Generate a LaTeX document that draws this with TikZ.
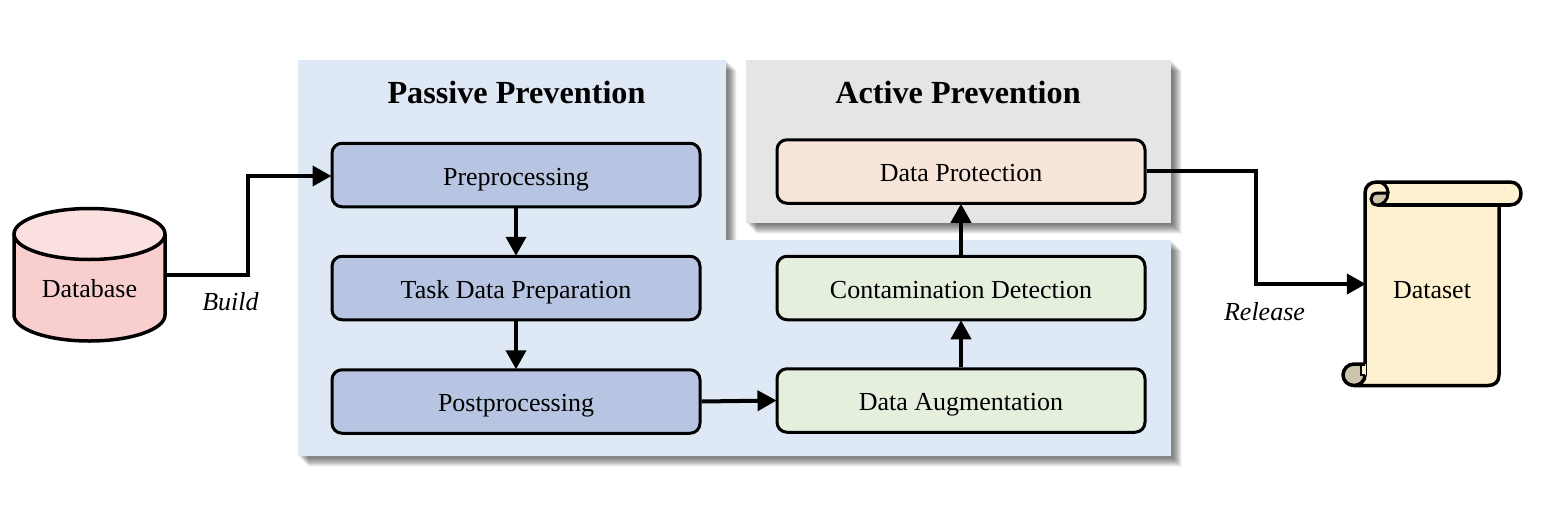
\documentclass[tikz,border=0pt]{standalone}
\usepackage{fontspec}
\setmainfont{Liberation Serif}
\usetikzlibrary{arrows.meta}
\definecolor{passive}{HTML}{DFE8F5}
\definecolor{active}{HTML}{E5E5E5}
\definecolor{bluebox}{HTML}{B7C5E2}
\definecolor{peach}{HTML}{F8E5D9}
\definecolor{greenbox}{HTML}{E4EFDD}
\definecolor{dbside}{HTML}{F8CECE}
\definecolor{dbtop}{HTML}{FBE0E0}
\definecolor{paper}{HTML}{FDF1D0}
\definecolor{curl}{HTML}{CCC5AC}
\tikzset{
  x=1pt,y=-1pt,
  stepbox/.style={draw=black,line width=3pt,rounded corners=10pt,minimum width=368pt,minimum height=63.5pt,inner sep=0pt,text height=22pt,text depth=2pt,font=\fontsize{26}{30}\selectfont},
  title/.style={inner sep=0pt,anchor=base,font=\fontsize{32.2}{36}\selectfont\bfseries},
  label/.style={inner sep=0pt,anchor=base,font=\fontsize{26}{30}\selectfont},
  side/.style={inner sep=0pt,anchor=base,font=\fontsize{26}{30}\selectfont\itshape},
  conn/.style={draw=black,line width=4pt,-{Triangle[length=19pt,width=20pt]},shorten >=-1pt},
  outline/.style={draw=black,line width=3.5pt,line join=round},
  anchorbox/.style={inner sep=0pt,draw=none,fill=none}
}
\newcommand{\softshadow}[1]{%
  \foreach \k in {1,1.5,2,2.5,3,3.5,4,4.5,5,5.5,6,6.5,7,7.5,8,8.5,9,9.5,10,10.5} {
    \fill[black,opacity=0.036,shift={(\k,\k)}] #1;
  }%
}
\begin{document}
\begin{tikzpicture}
\useasboundingbox (0,0) rectangle (1556,512);
% panels
\softshadow{(298,60) -- (726,60) -- (726,240) -- (1171,240) -- (1171,456) -- (298,456) -- cycle}
\softshadow{(746,60) rectangle (1171,223)}
\fill[passive] (298,60) -- (726,60) -- (726,240) -- (1171,240) -- (1171,456) -- (298,456) -- cycle;
\fill[active] (746,60) rectangle (1171,223);
\node[title] (ptitle) at (516.5,103) {Passive Prevention};
\node[title] (atitle) at (958,103) {Active Prevention};
% boxes
\node[stepbox,fill=bluebox] (pre) at (516,175) {Preprocessing};
\node[stepbox,fill=bluebox] (task) at (516,288) {Task Data Preparation};
\node[stepbox,fill=bluebox] (post) at (516,401.5) {Postprocessing};
\node[stepbox,fill=peach] (prot) at (961,171.5) {Data Protection};
\node[stepbox,fill=greenbox] (cont) at (961,288) {Contamination Detection};
\node[stepbox,fill=greenbox] (aug) at (961,400.5) {Data Augmentation};
% database
\path[outline,fill=dbside] (14,234) -- (14,315) arc[start angle=180,end angle=360,x radius=75.5,y radius=-26] -- (165,234) -- cycle;
\path[outline,fill=dbtop] (89.5,234) ellipse[x radius=75.5,y radius=25.5];
\node[anchorbox,minimum width=151pt,minimum height=133pt] (db) at (89.5,275) {};
\node[label] (dbtext) at (89.5,297) {Database};
% scroll
\path[outline,fill=paper]
  (1365,375) -- (1365,193)
  .. controls (1365,186) and (1370,182) .. (1377,182)
  -- (1510,182)
  .. controls (1517,182) and (1521,187) .. (1521,193.5)
  .. controls (1521,200) and (1517,205) .. (1510,205)
  -- (1499,205) -- (1499,375)
  .. controls (1499,381.5) and (1495,385.5) .. (1488,385.5)
  -- (1354,385.5) -- cycle;
\path[outline] (1377,205) -- (1510,205);
\path[draw=black,line width=3pt,fill=curl] (1388,193) -- (1378,193)
  .. controls (1373,193) and (1371,196) .. (1371,199)
  .. controls (1371,202) and (1373,205) .. (1377,205)
  .. controls (1383,205) and (1388,200) .. (1388,193) -- cycle;
\path[draw=black,line width=3pt] (1377,182) .. controls (1384,182) and (1388,187) .. (1388,193);
\fill[curl] (1354,375) circle[radius=11];
\fill[paper] (1361,364) rectangle (1366,375);
\path[outline] (1365,364) -- (1354,364)
  .. controls (1348,364) and (1343,369) .. (1343,375)
  .. controls (1343,381) and (1348,385.5) .. (1354,385.5)
  .. controls (1360,385.5) and (1365,381) .. (1365,375);
\path[draw=black,line width=2pt] (1361,365) -- (1361,375) -- (1365,375);
\node[anchorbox,minimum width=134pt,minimum height=203pt] (ds) at (1432,284) {};
\node[label] (dstext) at (1432,298) {Dataset};
% connectors
\coordinate (b1) at (248,275);
\coordinate (b2) at (248,176);
\coordinate (r1) at (1256,171);
\coordinate (r2) at (1256,284);
\draw[conn] (db.east) -- (b1) -- (b2) -- (pre.west|-b2);
\draw[conn] (pre) -- (task);
\draw[conn] (task) -- (post);
\draw[conn] (post.east) -- (aug.west);
\draw[conn] (aug) -- (cont);
\draw[conn] (cont) -- (prot);
\draw[conn] (prot.east|-r1) -- (r1) -- (r2) -- (ds.west|-r2);
\node[side] (build) at (230.5,310) {Build};
\node[side] (release) at (1264.5,320) {Release};
\end{tikzpicture}
\end{document}
